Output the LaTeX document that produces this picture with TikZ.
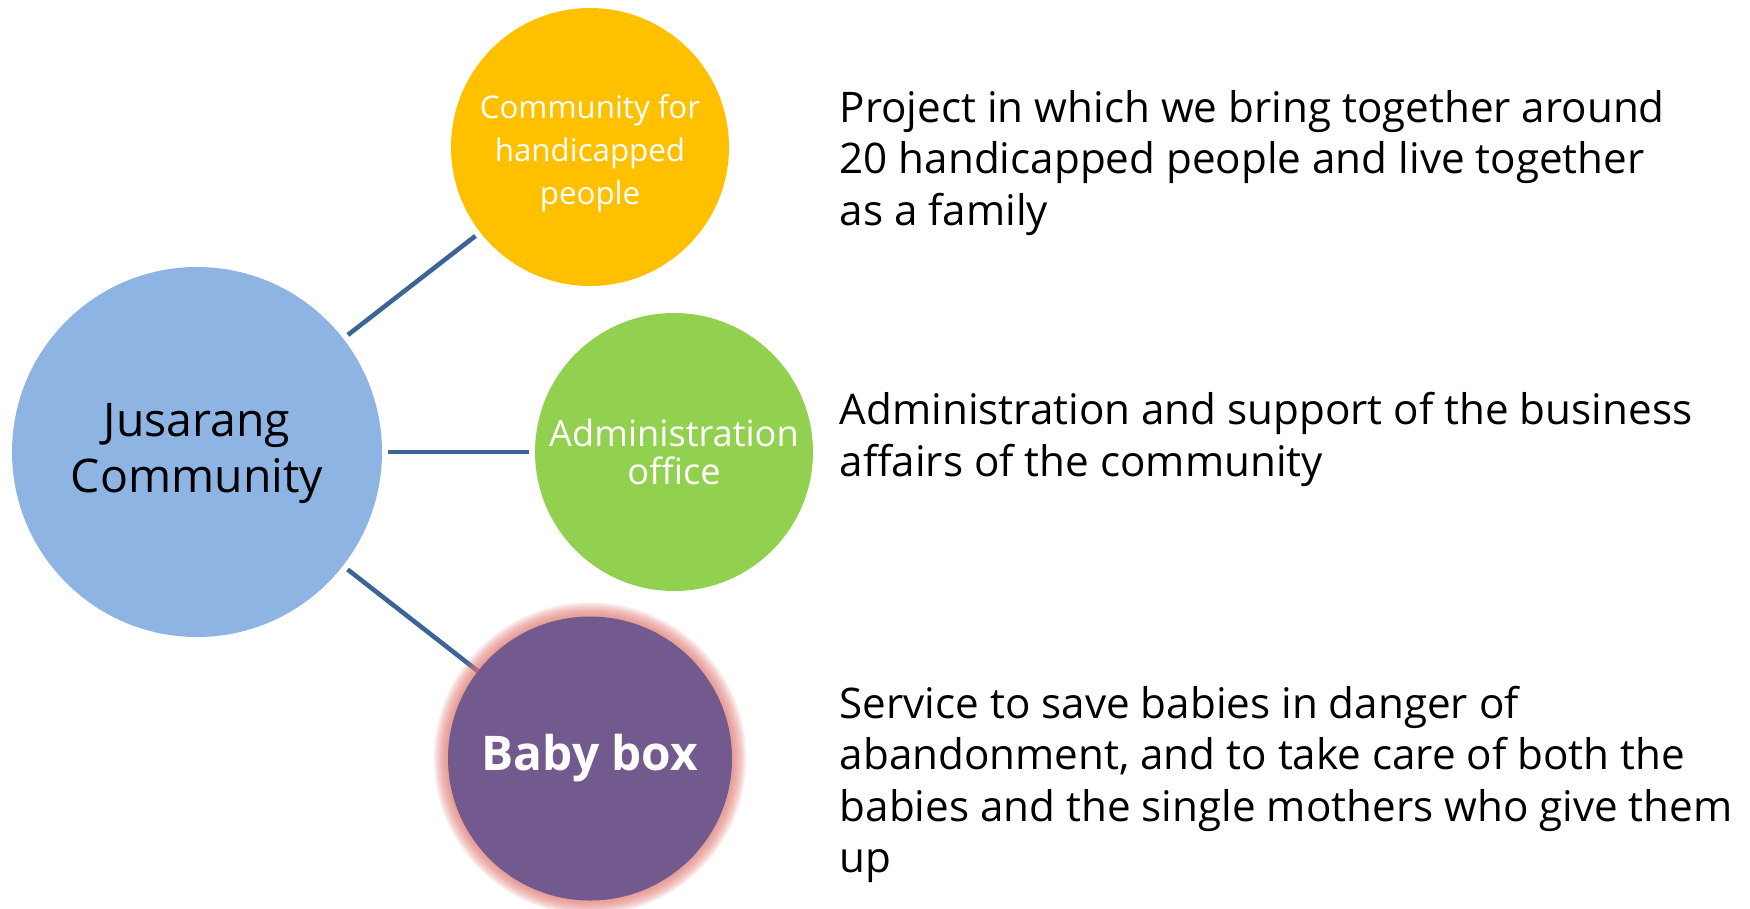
\documentclass[tikz,border=0pt]{standalone}
\usepackage{fontspec}
\setmainfont{Open Sans}
\usepackage{xcolor}
\usetikzlibrary{backgrounds}
\definecolor{mainblue}{HTML}{8EB4E3}
\definecolor{sunyellow}{HTML}{FFC000}
\definecolor{leafgreen}{HTML}{92D050}
\definecolor{boxpurple}{HTML}{72598E}
\definecolor{glowred}{HTML}{DF7770}
\definecolor{linkblue}{HTML}{3C6496}

\begin{document}
\begin{tikzpicture}[
  bubble/.style={circle,inner sep=0pt,outer sep=0pt,align=center},
  link/.style={linkblue,line width=1.3pt,shorten <=0.6mm,shorten >=0.6mm},
  desc/.style={anchor=base west,align=left,inner sep=0pt,
    font=\fontsize{12}{14.6}\selectfont}]
 \useasboundingbox (0,0) rectangle (17.5,9.08);

 % glow behind the baby box
 \foreach \r in {1.42,1.44,...,1.58}
   \fill[glowred,opacity=0.16] (5.90,1.495) circle (\r);

 \node[bubble,fill=mainblue,minimum size=3.70cm,
   font=\fontsize{13.2}{16}\selectfont] (jusarang) at (1.97,4.56) {\rule{0pt}{3.6mm}Jusarang\\Community};
 \node[bubble,fill=sunyellow,minimum size=2.78cm,text=white,
   font=\fontsize{8.9}{12.3}\selectfont] (handicap) at (5.90,7.61) {\rule{0pt}{3.7mm}Community for\\handicapped\\people};
 \node[bubble,fill=leafgreen,minimum size=2.78cm,text=white,
   font=\fontsize{10.3}{11}\selectfont] (admin) at (6.74,4.56) {Administration\\office};
 \node[bubble,fill=boxpurple,minimum size=2.84cm,text=white,
   font=\fontsize{13.6}{16}\selectfont\bfseries] (babybox) at (5.90,1.495) {Baby box};

 \begin{pgfonlayer}{background}
 \draw[link] (jusarang) -- (handicap);
 \draw[link] (jusarang) -- (admin);
 \draw[link,shorten >=0pt] (jusarang) -- (babybox);
 \end{pgfonlayer}

 \node[desc] (projtext) at (8.39,6.83) {Project in which we bring together around\\20 handicapped people and live together\\as a family};
 \node[desc] (admintext) at (8.39,4.32) {Administration and support of the business\\affairs of the community};
 \node[desc] (babytext) at (8.39,0.355) {Service to save babies in danger of\\abandonment, and to take care of both the\\babies and the single mothers who give them\\up};
\end{tikzpicture}
\end{document}
